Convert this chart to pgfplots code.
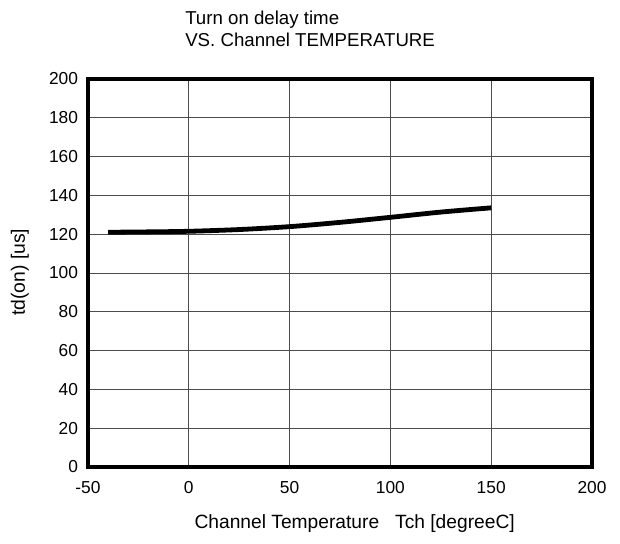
\documentclass[border=0pt]{standalone}
\usepackage{fontspec}
\setmainfont{Liberation Sans}
\usepackage{pgfplots}
\pgfplotsset{compat=1.18}
\begin{document}
\fontsize{13}{15}\selectfont
\begin{tikzpicture}
\path[use as bounding box] (-66pt,-57pt) rectangle (399pt,350.25pt);
\begin{axis}[
  at={(0,0)}, anchor=south west,
  scale only axis, width=378pt, height=291pt,
  xmin=-50, xmax=200, ymin=0, ymax=200,
  xtick={-50,0,50,100,150,200},
  ytick={0,20,...,200},
  grid=major,
  major grid style={line width=0.7pt, black!70},
  axis line style={line width=3pt},
  major tick length=0pt,
  /pgf/number format/assume math mode=true,
  ticklabel style={font=\fontsize{13}{15}\selectfont},
  yticklabel style={xshift=-3pt},
  xticklabel style={yshift=-6pt},
  clip=false,
]
\addplot[black, line width=3.6pt, smooth] coordinates {
(-40,121) (-20,121.2) (0,121.5) (25,122.4) (50,123.9) (75,126.1) (100,128.7) (125,131.4) (150,133.6)
};
\end{axis}
\node[anchor=north west, align=left, inner sep=0pt, font=\fontsize{14}{16.5}\selectfont] at (72.75pt,342.5pt) {Turn on delay time\\VS. Channel TEMPERATURE};
\node[rotate=90, font=\fontsize{14.5}{16}\selectfont] at (-51pt,146pt) {td(on) [us]};
\node[font=\fontsize{14.4}{16}\selectfont] at (200pt,-42.5pt) {Channel Temperature\ \ \ Tch [degreeC]};
\end{tikzpicture}
\end{document}
